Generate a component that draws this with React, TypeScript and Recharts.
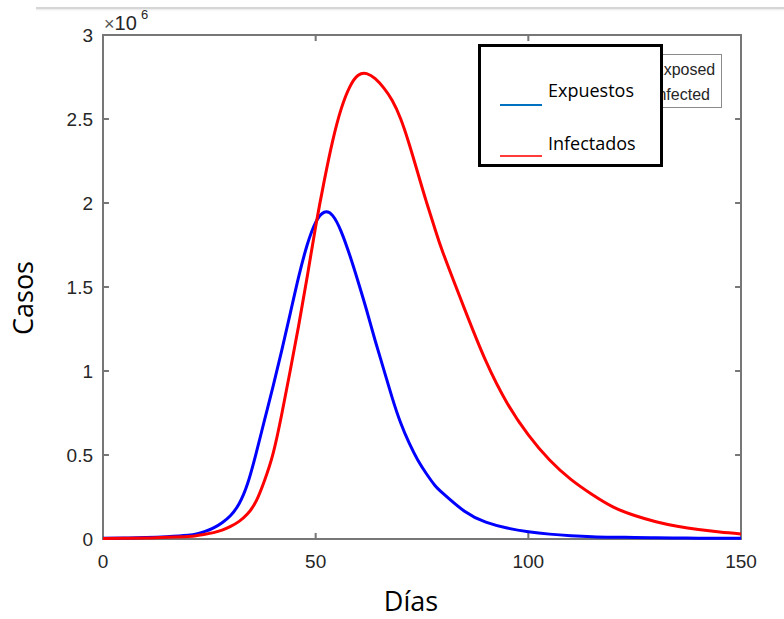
import { LineChart, Line, XAxis, YAxis, Label, ReferenceArea } from 'recharts';

// días de simulación
const dias = [0, 5, 10, 15, 20, 22, 24, 26, 28, 30, 32, 34, 36, 38, 40, 42, 44, 46, 48, 50, 52, 54, 56, 58, 60, 62, 64, 66, 68, 70, 72, 74, 76, 78, 80, 85, 90, 95, 100, 105, 110, 115, 120, 125, 130, 135, 140, 145, 150];
// casos en millones (x 10^6)
const expuestos = [0.004, 0.006, 0.009, 0.014, 0.022, 0.03, 0.045, 0.066, 0.097, 0.14, 0.21, 0.33, 0.51, 0.71, 0.91, 1.12, 1.34, 1.56, 1.75, 1.885, 1.945, 1.925, 1.83, 1.69, 1.53, 1.36, 1.18, 1.01, 0.84, 0.69, 0.57, 0.47, 0.39, 0.32, 0.27, 0.165, 0.1, 0.065, 0.043, 0.029, 0.02, 0.014, 0.011, 0.009, 0.007, 0.006, 0.005, 0.0045, 0.004];
const infectados = [0.003, 0.004, 0.006, 0.01, 0.015, 0.02, 0.028, 0.038, 0.053, 0.075, 0.105, 0.15, 0.225, 0.35, 0.51, 0.74, 1.0, 1.27, 1.56, 1.86, 2.13, 2.37, 2.56, 2.69, 2.76, 2.77, 2.74, 2.685, 2.61, 2.5, 2.35, 2.18, 2.01, 1.85, 1.7, 1.37, 1.06, 0.81, 0.62, 0.47, 0.355, 0.265, 0.19, 0.14, 0.103, 0.076, 0.056, 0.041, 0.03];

const xTicks = [0, 50, 100, 150];
const yTicks = [0, 0.5, 1, 1.5, 2, 2.5, 3];
const xDomain = [0, 150];
const yDomain = [0, 3];

const data = dias.map((dia, i) => ({ dia, expuestos: expuestos[i], infectados: infectados[i] }));

const GRAY = '#777777';
const TEXT = '#262626';
// largo de las marcas internas, en unidades de datos (~6 px)
const X_MARK = 1.4;
const Y_MARK = 0.036;
const tickFont = { fontFamily: '"Liberation Sans", Arial, sans-serif', fontSize: 19, fill: TEXT };
const labelFont = '"Open Sans", "Noto Sans", sans-serif';

export default function App() {
  return (
    <div style={{ position: 'absolute', left: 0, top: 0, width: 784, height: 619, background: '#fff', overflow: 'hidden' }}>
      <div style={{ position: 'absolute', left: 36, right: 0, top: 7, height: 2, background: '#d6d6d6', boxShadow: '0 1px 2px #e6e6e6' }} />

      <LineChart width={784} height={619} data={data} margin={{ top: 35, right: 43, bottom: 0, left: 0 }}>
        <XAxis dataKey="dia" type="number" domain={xDomain} ticks={xTicks} height={80}
          tickSize={0} tickMargin={16} tick={tickFont} tickLine={false} axisLine={false}>
          <Label
            content={({ viewBox }: any) => (
              <text x={viewBox.x + viewBox.width / 2 - 11} y={viewBox.y + 72} textAnchor="middle"
                fill="#000" fontSize={27} fontFamily={labelFont}>Días</text>
            )}
          />
        </XAxis>
        <YAxis type="number" domain={yDomain} ticks={yTicks} width={103}
          tickSize={0} tickMargin={10} tick={tickFont} tickLine={false} axisLine={false}>
          <Label
            content={({ viewBox }: any) => (
              <text transform={`translate(${viewBox.x + 33}, ${viewBox.y + viewBox.height / 2 + 11}) rotate(-90)`}
                textAnchor="middle" fill="#000" fontSize={27} fontFamily={labelFont}>Casos</text>
            )}
          />
        </YAxis>

        {/* marcas internas de los ejes (abajo/arriba e izquierda/derecha) */}
        {xTicks.map((t) => (
          <ReferenceArea key={`xb${t}`} x1={t - 0.24} x2={t + 0.24} y1={yDomain[0]} y2={yDomain[0] + Y_MARK} fill={GRAY} fillOpacity={1} stroke="none" ifOverflow="visible" />
        ))}
        {xTicks.map((t) => (
          <ReferenceArea key={`xt${t}`} x1={t - 0.24} x2={t + 0.24} y1={yDomain[1] - Y_MARK} y2={yDomain[1]} fill={GRAY} fillOpacity={1} stroke="none" ifOverflow="visible" />
        ))}
        {yTicks.map((t) => (
          <ReferenceArea key={`yl${t}`} x1={xDomain[0]} x2={xDomain[0] + X_MARK} y1={t - 0.006} y2={t + 0.006} fill={GRAY} fillOpacity={1} stroke="none" ifOverflow="visible" />
        ))}
        {yTicks.map((t) => (
          <ReferenceArea key={`yr${t}`} x1={xDomain[1] - X_MARK} x2={xDomain[1]} y1={t - 0.006} y2={t + 0.006} fill={GRAY} fillOpacity={1} stroke="none" ifOverflow="visible" />
        ))}
        {/* marco del gráfico */}
        <ReferenceArea x1={xDomain[0]} x2={xDomain[1]} y1={yDomain[0]} y2={yDomain[1]} fill="none" stroke={GRAY} strokeWidth={2} ifOverflow="visible" />

        <Line type="natural" dataKey="expuestos" stroke="#0000ff" strokeWidth={3} dot={false} isAnimationActive={false} />
        <Line type="natural" dataKey="infectados" stroke="#ff0000" strokeWidth={3} dot={false} isAnimationActive={false} />
      </LineChart>

      {/* escala x10^6 */}
      <div style={{ position: 'absolute', left: 104, top: 13, fontFamily: '"Liberation Sans", Arial, sans-serif', fontSize: 20, lineHeight: '20px', color: TEXT, whiteSpace: 'nowrap' }}>
        <span style={{ color: '#555', fontSize: 18 }}>×</span>10
      </div>
      <div style={{ position: 'absolute', left: 141, top: 8, fontFamily: '"Liberation Sans", Arial, sans-serif', fontSize: 13, lineHeight: '13px', color: TEXT }}>
        6
      </div>

      {/* leyenda original (parcialmente cubierta) */}
      <div style={{ position: 'absolute', left: 600, top: 54, width: 122, height: 54, boxSizing: 'border-box', border: '1px solid #8a8a8a', background: '#fff' }} />
      <div style={{ position: 'absolute', left: 653, top: 62, fontFamily: '"Liberation Sans", Arial, sans-serif', fontSize: 16, lineHeight: '16px', color: TEXT }}>Exposed</div>
      <div style={{ position: 'absolute', left: 653, top: 87, fontFamily: '"Liberation Sans", Arial, sans-serif', fontSize: 16, lineHeight: '16px', color: TEXT }}>Infected</div>

      {/* leyenda superpuesta */}
      <div style={{ position: 'absolute', left: 478, top: 44, width: 185, height: 123, boxSizing: 'border-box', border: '3px solid #000', background: '#fff' }}>
        <div style={{ position: 'absolute', left: 19, top: 57, width: 42, height: 2, background: '#0070c0' }} />
        <div style={{ position: 'absolute', left: 67, top: 31, fontFamily: labelFont, fontSize: 18, lineHeight: '24px', color: '#000' }}>Expuestos</div>
        <div style={{ position: 'absolute', left: 19, top: 108, width: 42, height: 2, background: '#ff3b3b' }} />
        <div style={{ position: 'absolute', left: 67, top: 84, fontFamily: labelFont, fontSize: 18, lineHeight: '24px', color: '#000' }}>Infectados</div>
      </div>
    </div>
  );
}
